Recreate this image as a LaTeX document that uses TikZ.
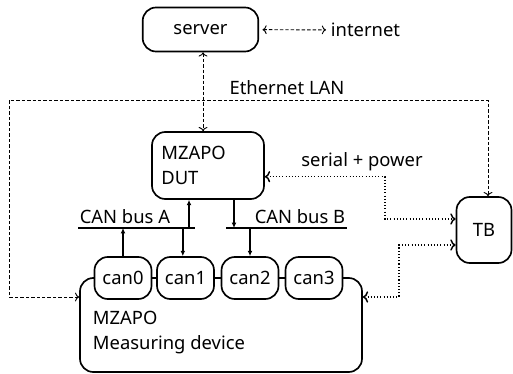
\documentclass[tikz,border=0pt]{standalone}
\usepackage{fontspec}
\setmainfont{Noto Sans}
\usetikzlibrary{arrows.meta}

\tikzset{every picture/.style={line width=0.75pt}}

\begin{document}
\begin{tikzpicture}[x=0.75pt,y=0.75pt,yscale=-1,xscale=1,
  font=\fontsize{13.8}{18.75}\selectfont,
  box/.style={draw,line width=1.25pt,rounded corners=10pt,fill=white,inner sep=0pt},
  canbox/.style={box,minimum width=42.75pt,minimum height=31.5pt},
  tip/.style={-{Latex[length=4pt,width=3.6pt]}},
  lan/.style={tip,line width=0.7pt,dash pattern=on 2.6pt off 1.5pt},
  ser/.style={tip,line width=1.1pt,dash pattern=on 0.8pt off 1.6pt},
  bus/.style={tip,line width=1.2pt}]
\useasboundingbox (0,0) rectangle (513,374);

%Boxes
\node[box,minimum width=86.7pt,minimum height=33pt] (server) at (200.5,29.5) {server};
\node[box,minimum width=84pt,minimum height=50.25pt,align=left,text width=70pt] (dut) at (208,165.5) {MZAPO\\DUT};
\node[box,minimum width=41.25pt,minimum height=49.5pt] (tb) at (484,230) {TB};
\node[box,minimum width=211.5pt,minimum height=70.5pt] (meas) at (221,325) {};
\node[anchor=west,align=left] (measlbl) at (88,333) {MZAPO\\Measuring device};

%CAN interfaces
\foreach \i/\x in {0/123,1/185.5,2/250,3/314}
  \node[canbox] (can\i) at (\x,278) {can\i};

%Text Nodes
\node[anchor=west] (inet) at (326,30) {internet};
\node (lanlbl) at (287,88) {Ethernet LAN};
\node (serlbl) at (362,162) {serial + power};

%CAN bus lines
\coordinate (busAl) at (78,228);
\coordinate (busAr) at (195,228);
\coordinate (busBl) at (226,228);
\coordinate (busBr) at (347,228);
\draw[line width=1.2pt] (busAl) -- (busAr);
\draw[line width=1.2pt] (busBl) -- (busBr);
\node[anchor=south west,inner sep=1pt] (busAlbl) at ([yshift=-2pt]busAl) {CAN bus A};
\node[anchor=south east,inner sep=1pt] (busBlbl) at ([yshift=-2pt]busBr) {CAN bus B};

%Ethernet
\draw[lan,<->,shorten <=2.5pt] (server) -- (inet);
\draw[lan,<->] ([xshift=1.9pt]server.south) -- ([xshift=1.9pt]server.south |- dut.north);
\draw[lan,<->] ([yshift=-21pt]meas.west) -| (9,100) -| ([xshift=3pt]tb.north);

%Serial + power
\draw[ser,<->] ([yshift=8.4pt]dut.east) -| (385,219) -- ([yshift=-8.25pt]tb.west);
\draw[ser,<->] ([yshift=-21pt]meas.east) -| (399,245) -- ([yshift=11.25pt]tb.west);

%CAN connections
\draw[bus] ([xshift=-14.25pt]dut.south |- busAl) -- ([xshift=-14.25pt]dut.south);
\draw[bus] ([xshift=19.5pt]dut.south) -- ([xshift=19.5pt]dut.south |- busBl);
\draw[bus] (can0.north) -- (can0.north |- busAl);
\draw[bus] ([xshift=-2pt]can1.north |- busAl) -- ([xshift=-2pt]can1.north);
\draw[bus] (can2.north |- busBl) -- (can2.north);

\end{tikzpicture}
\end{document}
